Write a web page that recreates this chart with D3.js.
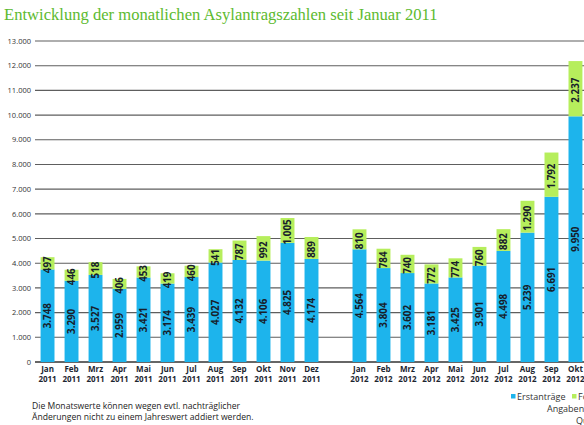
<!DOCTYPE html>
<html>
<head>
<meta charset="utf-8">
<script src="https://cdn.jsdelivr.net/npm/d3@7"></script>
<style>
  body { margin: 0; background: #fff; }
  svg { display: block; }
</style>
</head>
<body>
<div id="chart"></div>
<script>
// monthly values
const months = ["Jan", "Feb", "Mrz", "Apr", "Mai", "Jun", "Jul", "Aug", "Sep", "Okt", "Nov", "Dez"];
const erst2011 = [3748, 3290, 3527, 2959, 3421, 3174, 3439, 4027, 4132, 4106, 4825, 4174];
const folge2011 = [497, 446, 518, 406, 453, 419, 460, 541, 787, 992, 1005, 889];
const erst2012 = [4564, 3804, 3602, 3181, 3425, 3901, 4498, 5239, 6691, 9950];
const folge2012 = [810, 784, 740, 772, 774, 760, 882, 1290, 1792, 2237];
const yTicks = [0, 1000, 2000, 3000, 4000, 5000, 6000, 7000, 8000, 9000, 10000, 11000, 12000, 13000];

const width = 584, height = 425;
const blue = "#1db4ec", green = "#b6ee5c";

const data = [];
erst2011.forEach((v, i) => data.push({key: months[i] + " 2011", m: months[i], yr: "2011", erst: v, folge: folge2011[i]}));
erst2012.forEach((v, i) => data.push({key: months[i] + " 2012", m: months[i], yr: "2012", erst: v, folge: folge2012[i]}));

// one empty slot between the two years
const domain = data.slice(0, 12).map(d => d.key).concat(["gap"], data.slice(12).map(d => d.key));

const x = d3.scaleBand()
    .domain(domain)
    .range([30.5, 592.5])
    .padding(0.42);

const y = d3.scaleLinear()
    .domain([0, 13000])
    .range([362, 41]);

const fmt = d3.formatLocale({decimal: ",", thousands: ".", grouping: [3], currency: ["", "€"]}).format(",d");

const svg = d3.select("#chart").append("svg")
    .attr("width", width)
    .attr("height", height);

svg.append("text")
    .attr("x", 4)
    .attr("y", 20)
    .attr("fill", "#5dba2f")
    .attr("font-family", "Liberation Serif")
    .attr("font-size", 16.6)
    .text("Entwicklung der monatlichen Asylantragszahlen seit Januar 2011");

// grid
svg.append("g")
  .selectAll("line")
  .data(yTicks)
  .join("line")
    .attr("x1", 35)
    .attr("x2", width)
    .attr("y1", d => y(d))
    .attr("y2", d => y(d))
    .attr("stroke", d => d === 0 ? "#333" : "#5e5e5e")
    .attr("stroke-width", d => d === 0 ? 1.4 : 1.1);

svg.append("g")
    .attr("font-family", "Open Sans")
    .attr("font-size", 7.5)
    .attr("fill", "#333")
    .attr("text-anchor", "end")
  .selectAll("text")
  .data(yTicks)
  .join("text")
    .attr("x", 31)
    .attr("y", d => y(d) + 2.7)
    .text(d => fmt(d));

const bars = svg.append("g")
  .selectAll("g")
  .data(data)
  .join("g");

bars.append("rect")
    .attr("x", d => x(d.key))
    .attr("width", x.bandwidth())
    .attr("y", d => y(d.erst))
    .attr("height", d => y(0) - y(d.erst))
    .attr("fill", blue);

bars.append("rect")
    .attr("x", d => x(d.key))
    .attr("width", x.bandwidth())
    .attr("y", d => y(d.erst + d.folge))
    .attr("height", d => y(d.erst) - y(d.erst + d.folge))
    .attr("fill", green);

const lab = (sel, val, mid) => sel.append("text")
    .attr("transform", d => `translate(${x(d.key) + x.bandwidth() / 2 + 3.4},${mid(d)}) rotate(-90)`)
    .attr("text-anchor", "middle")
    .attr("font-family", "Open Sans")
    .attr("font-weight", "bold")
    .attr("font-size", 9.8)
    .attr("fill", "#17202b")
    .text(d => fmt(val(d)));

lab(bars, d => d.erst, d => (y(0) + y(d.erst)) / 2);
lab(bars, d => d.folge, d => (y(d.erst) + y(d.erst + d.folge)) / 2 + 1.5);

// x labels
const xl = svg.append("g")
    .attr("font-family", "Open Sans")
    .attr("font-weight", "bold")
    .attr("font-size", 8)
    .attr("fill", "#1c2530")
    .attr("text-anchor", "middle")
  .selectAll("text")
  .data(data)
  .join("text")
    .attr("x", d => x(d.key) + x.bandwidth() / 2)
    .attr("y", 372);
xl.append("tspan").text(d => d.m);
xl.append("tspan").attr("x", d => x(d.key) + x.bandwidth() / 2).attr("dy", 9.5).text(d => d.yr);

// footnote
svg.append("text")
    .attr("font-family", "Open Sans")
    .attr("font-size", 8.6)
    .attr("fill", "#222")
    .selectAll("tspan")
    .data(["Die Monatswerte können wegen evtl. nachträglicher", "Änderungen nicht zu einem Jahreswert addiert werden."])
    .join("tspan")
      .attr("x", 32)
      .attr("y", (d, i) => 409 + i * 11)
      .text(d => d);

// legend
const leg = svg.append("g")
    .attr("font-family", "Open Sans")
    .attr("font-size", 9)
    .attr("fill", "#333");
leg.append("rect").attr("x", 511).attr("y", 394).attr("width", 4.5).attr("height", 4.5).attr("fill", blue);
leg.append("text").attr("x", 517).attr("y", 400).text("Erstanträge");
leg.append("rect").attr("x", 572).attr("y", 394).attr("width", 4.5).attr("height", 4.5).attr("fill", green);
leg.append("text").attr("x", 578).attr("y", 400).text("Folgeanträge");
leg.append("text").attr("x", 547).attr("y", 412).text("Angaben in Personen");
leg.append("text").attr("x", 576).attr("y", 424).text("Quelle: BAMF");
</script>
</body>
</html>
